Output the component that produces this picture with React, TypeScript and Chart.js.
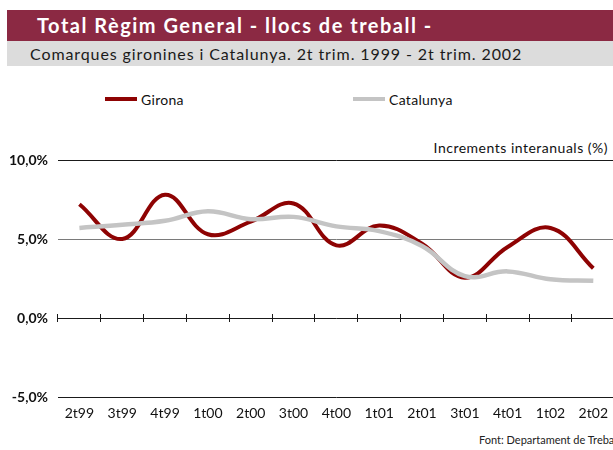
import React, { useEffect, useRef } from "react";
import { Chart, registerables } from "chart.js";

Chart.register(...registerables);

const categories = ["2t99", "3t99", "4t99", "1t00", "2t00", "3t00", "4t00", "1t01", "2t01", "3t01", "4t01", "1t02", "2t02"];
const gironaValues = [7.2, 5.0, 7.8, 5.3, 6.1, 7.25, 4.6, 5.85, 4.7, 2.55, 4.5, 5.7, 3.15];
const catalunyaValues = [5.7, 5.9, 6.15, 6.75, 6.25, 6.4, 5.8, 5.5, 4.55, 2.65, 2.95, 2.45, 2.35];
const yMin = -5;
const yMax = 10;
const yStep = 5;

const TEXT_FONT = "Lato, 'Open Sans', sans-serif";

export default function App() {
  const canvasRef = useRef<HTMLCanvasElement | null>(null);

  useEffect(() => {
    const canvas = canvasRef.current;
    if (!canvas) return;
    const chart = new Chart(canvas, {
      type: "line",
      data: {
        labels: categories,
        datasets: [
          {
            label: "Girona",
            data: gironaValues,
            borderColor: "#8E0303",
            borderWidth: 4,
            pointRadius: 0,
            tension: 0.4,
            fill: false,
            order: 1,
          },
          {
            label: "Catalunya",
            data: catalunyaValues,
            borderColor: "#C4C4C4",
            borderWidth: 4.5,
            pointRadius: 0,
            tension: 0.4,
            fill: false,
            order: 0,
          },
        ],
      },
      options: {
        animation: false,
        responsive: false,
        devicePixelRatio: 1,
        layout: { padding: { top: 30, right: 0, bottom: 0, left: 0 } },
        plugins: {
          legend: { display: false },
          tooltip: { enabled: false },
          title: { display: false },
        },
        scales: {
          x: {
            type: "category",
            position: "bottom",
            offset: true,
            grid: { display: false, drawTicks: false },
            border: { display: false },
            ticks: {
              padding: 8,
              color: "#111",
              maxRotation: 0,
              autoSkip: false,
              font: { family: TEXT_FONT, size: 14 },
            },
            afterFit: (scale: any) => {
              scale.height = 30;
            },
          },
          xt: {
            type: "category",
            position: { y: 0.25 } as any,
            offset: true,
            grid: {
              offset: true,
              drawOnChartArea: false,
              drawTicks: true,
              tickLength: 8,
              color: "#1a1a1a",
              lineWidth: 1,
            },
            border: { display: false },
            ticks: { display: false },
          },
          y: {
            type: "linear",
            min: yMin,
            max: yMax,
            border: { display: false },
            grid: {
              drawTicks: false,
              lineWidth: 1,
              color: (ctx: any) => (ctx.tick && ctx.tick.value === 5 ? "#7a7a7a" : "#1a1a1a"),
            },
            ticks: {
              stepSize: yStep,
              padding: 10,
              color: "#111",
              font: { family: TEXT_FONT, size: 14, weight: "bold" },
              callback: (v: any) => Number(v).toFixed(1).replace(".", ",") + "%",
            },
            afterFit: (scale: any) => {
              scale.width = 58;
            },
          },
        },
      } as any,
    });
    return () => chart.destroy();
  }, []);

  return (
    <div
      style={{
        position: "fixed",
        left: 0,
        top: 0,
        width: 613,
        height: 450,
        overflow: "hidden",
        background: "#fff",
        fontFamily: TEXT_FONT,
      }}
    >
      <div style={{ position: "absolute", left: 7, top: 10, width: 620, height: 31, background: "#8B2943" }}>
        <span
          style={{
            position: "absolute",
            left: 30,
            top: 0,
            lineHeight: "31px",
            color: "#fff",
            fontWeight: "bold",
            fontSize: 20,
            letterSpacing: 1.5,
            whiteSpace: "nowrap",
          }}
        >
          Total Règim General - llocs de treball -
        </span>
      </div>
      <div style={{ position: "absolute", left: 7, top: 41, width: 620, height: 25, background: "#DCDCDC" }}>
        <span
          style={{
            position: "absolute",
            left: 23,
            top: 0,
            lineHeight: "25px",
            color: "#1a1a1a",
            fontSize: 16,
            letterSpacing: 0.9,
            whiteSpace: "nowrap",
          }}
        >
          Comarques gironines i Catalunya. 2t trim. 1999 - 2t trim. 2002
        </span>
      </div>

      <div style={{ position: "absolute", left: 105, top: 97, width: 32, height: 4, background: "#8E0303" }} />
      <span style={{ position: "absolute", left: 141, top: 90, lineHeight: "20px", fontSize: 14, letterSpacing: 0.3, color: "#111", whiteSpace: "nowrap" }}>
        Girona
      </span>
      <div style={{ position: "absolute", left: 353, top: 97, width: 32, height: 4, background: "#C4C4C4" }} />
      <span style={{ position: "absolute", left: 389, top: 90, lineHeight: "20px", fontSize: 14, letterSpacing: 0.3, color: "#111", whiteSpace: "nowrap" }}>
        Catalunya
      </span>

      <span
        style={{
          position: "absolute",
          right: 5,
          top: 138,
          lineHeight: "20px",
          fontSize: 14,
          letterSpacing: 0.5,
          color: "#111",
          whiteSpace: "nowrap",
        }}
      >
        Increments interanuals (%)
      </span>

      <canvas
        ref={canvasRef}
        width={616}
        height={297}
        style={{ position: "absolute", left: 0, top: 130, width: 616, height: 297 }}
      />

      <span
        style={{
          position: "absolute",
          left: 479,
          top: 432,
          lineHeight: "16px",
          fontSize: 11,
          color: "#222",
          whiteSpace: "nowrap",
        }}
      >
        Font: Departament de Treball
      </span>
    </div>
  );
}
